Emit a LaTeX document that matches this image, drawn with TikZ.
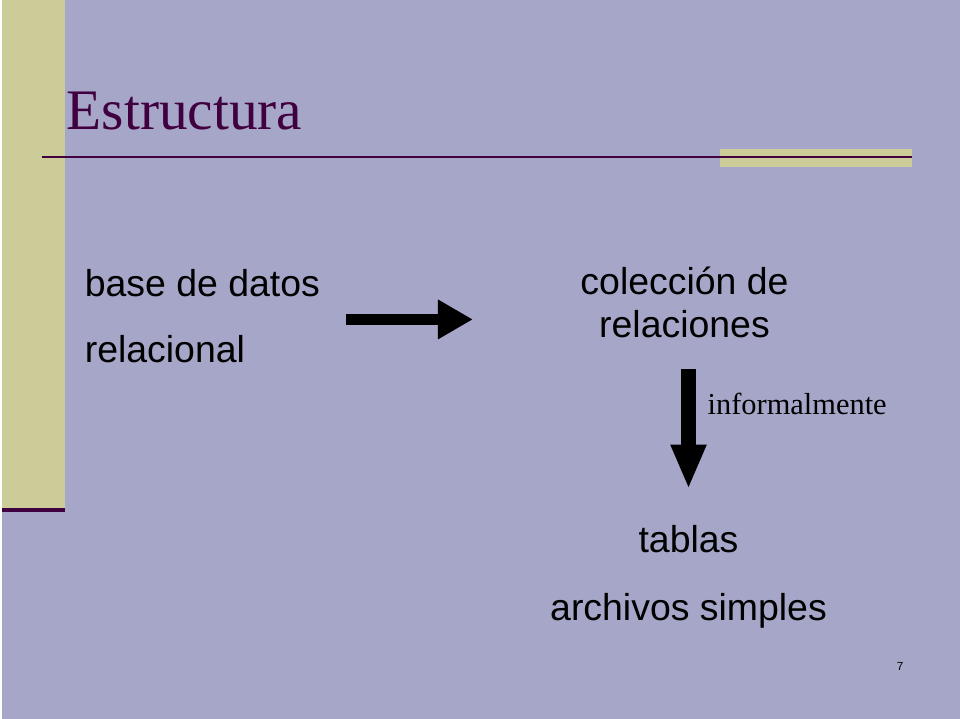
\documentclass[tikz,border=0pt]{standalone}
\usepackage{fontspec}
\setmainfont{Liberation Serif}
\setsansfont{Liberation Sans}
\usetikzlibrary{arrows.meta,positioning}
\definecolor{fondo}{HTML}{A6A6C8}
\definecolor{oliva}{HTML}{CCCC99}
\definecolor{morado}{HTML}{400040}
\tikzset{
  texto/.style={font=\sffamily\fontsize{32}{46}\selectfont, align=center, inner sep=0pt},
  flecha/.style={-{Triangle[length=30pt,width=32pt]}, line width=10pt}
}
\begin{document}
\begin{tikzpicture}[x=0.03cm,y=-0.03cm]
            \fill[fondo] (0,0) rectangle (960,720);
            \fill[oliva] (0,0) rectangle (63,510);
            \draw[morado,line width=3pt] (0,511)--(63,511);
            \fill[oliva] (720,149) rectangle (912,167);
            \draw[morado,line width=1.5pt] (40,157)--(912,157);
            \node[anchor=base west,text=morado,font=\fontsize{49}{54}\selectfont,inner sep=0pt] (titulo) at (65,130) {Estructura};

            \node[texto,align=left,anchor=north west] (base) at (83,270) {base de datos\\[10pt]relacional};
            \node[texto] (coleccion) at (684,303) {colección de\\[-10pt]relaciones};
            \node[texto] (tablas) at (688,578) {tablas\\[12pt]archivos simples};
            \coordinate (d1) at (345,320);
            \coordinate (d2) at (472,320);
            \draw[flecha] (d1)--(d2);
            \coordinate (b1) at (688,370);
            \coordinate (b2) at (688,490);
            \draw[flecha,line width=12pt,-{Triangle[length=38pt,width=28pt]}] (b1)--(b2);
            \node[anchor=west,font=\fontsize{26}{30}\selectfont,inner sep=0pt] (informal) at (707,405) {informalmente};
            \node[font=\sffamily\fontsize{10}{12}\selectfont,inner sep=0pt] (pagina) at (900,668) {7};
        \end{tikzpicture}
\end{document}
